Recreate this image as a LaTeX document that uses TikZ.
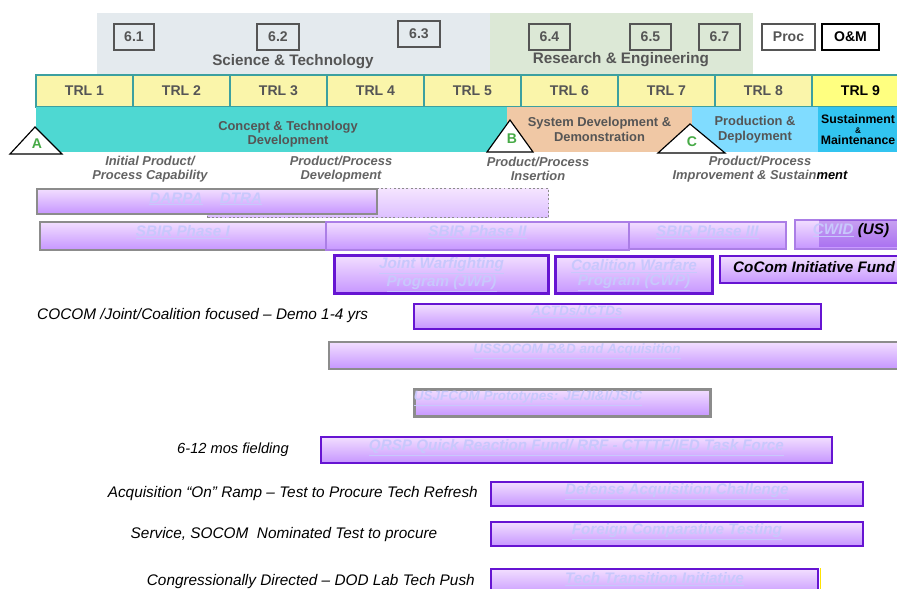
\documentclass[tikz,border=0pt]{standalone}
\usepackage{fontspec}
\setmainfont{Liberation Sans}
\definecolor{trlfill}{RGB}{250,245,170}
\definecolor{trlnine}{RGB}{255,255,128}
\definecolor{trlline}{RGB}{60,160,160}
\definecolor{conceptteal}{RGB}{78,216,210}
\definecolor{sddpeach}{RGB}{240,200,165}
\definecolor{prodblue}{RGB}{128,220,255}
\definecolor{sustblue}{RGB}{50,196,240}
\definecolor{stpanel}{RGB}{228,234,238}
\definecolor{repanel}{RGB}{220,232,214}
\definecolor{barlight}{RGB}{242,222,255}
\definecolor{bardark}{RGB}{198,150,255}
\definecolor{barline}{RGB}{102,20,210}
\definecolor{bartxt}{RGB}{200,200,252}
\definecolor{graybox}{RGB}{140,140,140}
\definecolor{labelgray}{RGB}{85,85,85}
\definecolor{stagegray}{RGB}{100,100,100}
\definecolor{mgreen}{RGB}{70,170,70}
\usetikzlibrary{positioning}

\begin{document}
\begin{tikzpicture}[
    x=0.03cm, y=-0.03cm,
    sz/.style 2 args={minimum width=#1*0.03cm,minimum height=#2*0.03cm},
    budget/.style={rectangle,draw=labelgray,line width=0.9pt,inner sep=0pt,font=\fontsize{12}{14}\selectfont\bfseries,text=labelgray},
    trl/.style={rectangle,draw=trlline,line width=1.4pt,fill=trlfill,inner sep=0pt,outer sep=0pt,font=\fontsize{12}{14}\selectfont\bfseries,text=labelgray},
    phase/.style={rectangle,inner sep=0pt,outer sep=0pt,align=center,font=\fontsize{11}{12.5}\selectfont\bfseries,text=labelgray},
    stage/.style={align=center,font=\fontsize{11}{11.5}\selectfont\bfseries\itshape,text=stagegray},
    milestone/.style={draw=black,line width=1pt,fill=white},
    bar/.style={rectangle,draw=barline,line width=1.6pt,top color=barlight,bottom color=bardark,inner sep=0pt},
    graybar/.style={bar,draw=graybox},
    bartext/.style={align=center,text=bartxt,font=\fontsize{13}{11}\selectfont\bfseries\itshape},
    raised/.style={text height=9pt,text depth=8pt},
    note/.style={font=\fontsize{13.1}{14}\selectfont\itshape,inner sep=0pt}
]
    \clip (0,0) rectangle (897,589);
    \fill[white] (0,0) rectangle (897,589);

    % budget activity panels
    \fill[stpanel] (97,13) rectangle (490,75);
    \fill[repanel] (490,13) rectangle (753,75);

    \node[budget,sz={40}{26}] (b61) at (134,37) {6.1};
    \node[budget,sz={42}{26}] (b62) at (278,37) {6.2};
    \node[budget,sz={42}{26}] (b63) at (419,34) {6.3};
    \node[budget,sz={41}{26}] (b64) at (549.5,37) {6.4};
    \node[budget,sz={41}{26}] (b65) at (650.5,37) {6.5};
    \node[budget,sz={41}{26}] (b67) at (719.5,37) {6.7};
    \node[budget,sz={53}{26},fill=white] (proc) at (788.5,37) {Proc};
    \node[budget,sz={57}{26},fill=white,draw=black,text=black,line width=1.2pt] (om) at (850.5,37) {O\&M};

    \node[font=\fontsize{13}{14}\selectfont\bfseries,text=labelgray] (st) at (293,62) {Science \& Technology};
    \node[font=\fontsize{13}{14}\selectfont\bfseries,text=labelgray] (re) at (621,60) {Research \& Engineering};

    % TRL scale
    \node[trl,sz={97}{32},anchor=north west] (trl1) at (36,75) {TRL 1};
    \node[trl,sz={97}{32},right=0pt of trl1] (trl2) {TRL 2};
    \node[trl,sz={97}{32},right=0pt of trl2] (trl3) {TRL 3};
    \node[trl,sz={97}{32},right=0pt of trl3] (trl4) {TRL 4};
    \node[trl,sz={97}{32},right=0pt of trl4] (trl5) {TRL 5};
    \node[trl,sz={97}{32},right=0pt of trl5] (trl6) {TRL 6};
    \node[trl,sz={97}{32},right=0pt of trl6] (trl7) {TRL 7};
    \node[trl,sz={97}{32},right=0pt of trl7] (trl8) {TRL 8};
    \node[trl,sz={97}{32},right=0pt of trl8,fill=trlnine,text=black] (trl9) {TRL 9};

    % acquisition phases
    \node[phase,sz={471}{45},fill=conceptteal,anchor=north west] (ctd) at (36,107) {};
    \node[phase] (ctdtxt) at (288,134) {Concept \& Technology\\Development};
    \node[phase,sz={185}{45},fill=sddpeach,right=0pt of ctd] (sdd) {System Development \&\\Demonstration};
    \node[phase,sz={126}{45},fill=prodblue,right=0pt of sdd] (pd) {Production \&\\Deployment};
    \node[phase,sz={80}{45},fill=sustblue,right=0pt of pd,text=black,font=\fontsize{10.5}{9}\selectfont\bfseries] (sm) {Sustainment\\{\fontsize{7}{7}\selectfont\&}\\Maintenance};

    % milestones
    \draw[milestone] (35,127) -- (10,154) -- (62,154) -- cycle;
    \node[text=mgreen,font=\fontsize{12}{12}\selectfont\bfseries] (msa) at (37,144) {A};
    \draw[milestone] (510,120) -- (487,152) -- (533,152) -- cycle;
    \node[text=mgreen,font=\fontsize{12}{12}\selectfont\bfseries] (msb) at (512,139) {B};
    \draw[milestone] (690,124) -- (658,153) -- (725,153) -- cycle;
    \node[text=mgreen,font=\fontsize{12}{12}\selectfont\bfseries] (msc) at (692,142) {C};

    \node[stage] (initial) at (150,169) {Initial Product/\\Process Capability};
    \node[stage] (develop) at (341,169) {Product/Process\\Development};
    \node[stage] (insert) at (538,169) {Product/Process\\Insertion};
    \node[stage] (improve) at (760,169) {Product/Process\\Improvement \& Sustain{\color{black}ment}};

    % programs
    \node[bar,sz={341}{29},anchor=north west,draw=graybox,dotted,line width=1.2pt,top color=barlight!80!white,bottom color=bardark!60!white] (dtra) at (207,188) {};
    \node[graybar,sz={340}{25},anchor=north west] (darpa) at (36,188) {};
    \node[bartext] (darpatxt) at (176,199) {\underline{DARPA}};
    \node[bartext] (dtratxt) at (241,199) {\underline{DTRA}};

    \node[graybar,bartext,raised,sz={286}{28},anchor=north west] (sbir1) at (39,221) {\underline{SBIR Phase I}};
    \node[bar,bartext,raised,sz={303}{28},anchor=north west,draw=barline!55] (sbir2) at (325,221) {\underline{SBIR Phase II}};
    \node[bar,bartext,raised,sz={157}{27},anchor=north west,draw=barline!55] (sbir3) at (628,221) {\underline{SBIR Phase III}};
    \node[bar,sz={110}{29},anchor=north west,draw=barline!55] (cwid) at (794,219) {};
    \fill[barline,opacity=0.3] (819,220) rectangle (897,247);
    \node[bartext,raised] (cwidtxt) at (851,234) {\underline{CWID} {\color{black}(US)}};

    \node[bar,bartext,sz={214}{38},anchor=north west,line width=2.6pt] (jwp) at (333,254) {\underline{Joint Warfighting}\\\underline{Program (JWP)}};
    \node[bar,bartext,sz={157}{37},anchor=north west,line width=2.6pt] (cwp) at (554,255) {\underline{Coalition Warfare}\\\underline{Program (CWP)}};
    \node[bar,sz={186}{27},anchor=north west] (cocom) at (719,255) {};
    \node[bartext,text=black,anchor=west,inner sep=0pt] (cocomtxt) at (733,267) {CoCom Initiative Fund};

    \node[note,anchor=west] (coalnote) at (37,316) {COCOM /Joint/Coalition focused – Demo 1-4 yrs};
    \node[bar,sz={407}{25},anchor=north west] (actd) at (413,303) {};
    \node[bartext,font=\fontsize{11.5}{12}\selectfont\bfseries\itshape] (actdtxt) at (577,312) {\underline{ACTDs/JCTDs}};

    \node[graybar,sz={577}{27},anchor=north west] (ussocom) at (328,341) {};
    \node[bartext,font=\fontsize{11.5}{12}\selectfont\bfseries\itshape] (ussocomtxt) at (577,351) {\underline{USSOCOM R\&D and Acquisition}};

    \node[graybar,sz={296}{27},anchor=north west,line width=2.6pt] (usjfcom) at (413,388) {};
    \node[bartext,font=\fontsize{11.5}{12}\selectfont\bfseries\itshape] (usjfcomtxt) at (528,398) {\underline{USJFCOM Prototypes: JE/JI\&I/JSIC}};

    \node[note,font=\fontsize{12.5}{14}\selectfont\itshape] (fieldnote) at (233,450) {6-12 mos fielding};
    \node[bar,bartext,raised,sz={511}{26},anchor=north west] (qrsp) at (320,436) {\underline{QRSP Quick Reaction Fund/ RRF - CTTTF/IED Task Force}};

    \node[note,anchor=east] (rampnote) at (478,494) {Acquisition “On” Ramp – Test to Procure Tech Refresh};
    \node[bar,bartext,raised,sz={372}{24},anchor=north west] (dac) at (490,481) {\underline{Defense Acquisition Challenge}};

    \node[note] (socomnote) at (284,535) {Service, SOCOM~ Nominated Test to procure};
    \node[bar,bartext,raised,sz={372}{24},anchor=north west] (fct) at (490,521) {\underline{Foreign Comparative Testing}};

    \node[note,anchor=east] (labnote) at (475,582) {Congressionally Directed – DOD Lab Tech Push};
    \node[bar,bartext,raised,sz={327}{27},anchor=north west] (tti) at (490,568) {\underline{Tech Transition Initiative}};
    \draw[yellow!85!orange,line width=1.4pt] ([xshift=1.5pt]tti.north east) -- ([xshift=1.5pt]tti.south east);
\end{tikzpicture}
\end{document}
